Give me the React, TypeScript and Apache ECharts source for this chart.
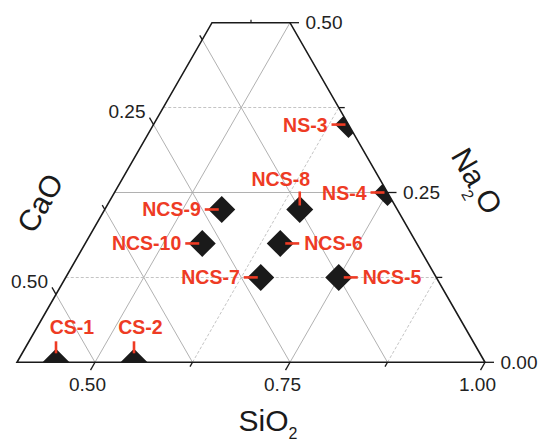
import React, { useEffect, useRef } from "react";
import * as echarts from "echarts";

// ---------------- data (mole fractions) ----------------
const SAMPLES = ["CS-1", "CS-2", "NS-3", "NS-4", "NCS-5", "NCS-6", "NCS-7", "NCS-8", "NCS-9", "NCS-10"];
const SIO2 = [0.45, 0.55, 0.65, 0.75, 0.75, 0.65, 0.65, 0.65, 0.55, 0.55];
const NA2O = [0.0, 0.0, 0.35, 0.25, 0.125, 0.175, 0.125, 0.225, 0.225, 0.175];
const CAO = [0.55, 0.45, 0.0, 0.0, 0.125, 0.175, 0.225, 0.125, 0.225, 0.275];

const SIO2_TICKS = [0.5, 0.625, 0.75, 0.875, 1.0];
const SIO2_TICK_LABELS = ["0.50", "", "0.75", "", "1.00"];
const CAO_TICKS = [0.125, 0.25, 0.375, 0.5];
const CAO_TICK_LABELS = ["", "0.25", "", "0.50"];
const NA2O_TICKS = [0.0, 0.125, 0.25, 0.375, 0.5];
const NA2O_TICK_LABELS = ["0.00", "", "0.25", "", "0.50"];

// visible window of the ternary
const SIO2_MIN = 0.4;
const NA2O_MAX = 0.5;

// label placement (styles, kept apart from the data)
const LABEL_LAYOUT: Record<string, any> = {
  "CS-1": { side: "up", dx: 16, lead: [21, 9], base: 28 },
  "CS-2": { side: "up", dx: 6.5, lead: [21, 9], base: 28 },
  "NS-3": { side: "left" },
  "NS-4": { side: "left" },
  "NCS-5": { side: "right" },
  "NCS-6": { side: "right" },
  "NCS-7": { side: "left" },
  "NCS-8": { side: "up", dx: -19, lead: [18, 4], base: 23.6 },
  "NCS-9": { side: "left" },
  "NCS-10": { side: "left" },
};

const FONT = '"Liberation Sans", Arial, Helvetica, sans-serif';
const RED = "#ee3b24";
const INK = "#1a1a1a";

// ternary (SiO2, Na2O; CaO = 1 - SiO2 - Na2O) -> cartesian
const toXY = (s: number, n: number): [number, number] => [s + n / 2, n];

const BL = toXY(SIO2_MIN, 0);
const BR = toXY(1, 0);
const TR = toXY(1 - NA2O_MAX, NA2O_MAX);
const TL = toXY(SIO2_MIN, NA2O_MAX);

function buildGridLines() {
  const solid: [number, number][][] = [];
  const dashed: [number, number][][] = [];
  NA2O_TICKS.forEach((n, i) => {
    if (n <= 0 || n >= NA2O_MAX) return;
    const seg = [toXY(SIO2_MIN, n), toXY(1 - n, n)];
    (NA2O_TICK_LABELS[i] ? solid : dashed).push(seg);
  });
  SIO2_TICKS.forEach((s, i) => {
    if (s >= 1) return;
    const seg = [toXY(s, 0), toXY(s, Math.min(NA2O_MAX, 1 - s))];
    (SIO2_TICK_LABELS[i] ? solid : dashed).push(seg);
  });
  CAO_TICKS.forEach((c) => {
    const nLeft = 1 - c - SIO2_MIN;
    const end = nLeft <= NA2O_MAX ? toXY(SIO2_MIN, nLeft) : toXY(1 - c - NA2O_MAX, NA2O_MAX);
    solid.push([toXY(1 - c, 0), end]);
  });
  return { solid, dashed };
}

function unit(a: number[], b: number[]) {
  const dx = a[0] - b[0];
  const dy = a[1] - b[1];
  const l = Math.hypot(dx, dy) || 1;
  return [dx / l, dy / l];
}

function tickLabel(text: string, x: number, y: number, align: string) {
  return {
    type: "text",
    x,
    y,
    style: { text, fill: "#222", fontSize: 19, fontFamily: FONT, align, verticalAlign: "middle" },
  };
}

function tickLine(p: number[], d: number[], len: number) {
  return {
    type: "line",
    shape: { x1: p[0], y1: p[1], x2: p[0] + d[0] * len, y2: p[1] + d[1] * len },
    style: { stroke: INK, lineWidth: 1.3 },
  };
}

function measure(text: string, size: number) {
  const ctx = document.createElement("canvas").getContext("2d")!;
  ctx.font = `${size}px ${FONT}`;
  return ctx.measureText(text).width;
}

function subTitle(parts: { t: string; sub?: boolean }[], cx: number, cy: number, rot: number, size: number, subSize: number, subDy: number) {
  const widths = parts.map((p) => measure(p.t, p.sub ? subSize : size));
  const total = widths.reduce((a, b) => a + b, 0);
  let x = -total / 2;
  const children = parts.map((p, i) => {
    const el = {
      type: "text",
      x,
      y: p.sub ? subDy : 0,
      z: 100,
      style: { text: p.t, fontSize: p.sub ? subSize : size, fontFamily: FONT, fill: INK, align: "left", verticalAlign: "middle" },
    };
    x += widths[i];
    return el;
  });
  return { type: "group", x: cx, y: cy, rotation: rot, z: 100, children };
}

function buildOption() {
  const { solid, dashed } = buildGridLines();
  const points = SAMPLES.map((name, i) => ({ name, value: toXY(SIO2[i], NA2O[i]), cao: CAO[i] }));

  return {
    animation: false,
    backgroundColor: "#fff",
    grid: { left: 17, top: 22.7, width: 468, height: 339.6, show: false },
    xAxis: { type: "value", min: SIO2_MIN, max: 1, show: false },
    yAxis: { type: "value", min: 0, max: NA2O_MAX, show: false },
    series: [
      {
        type: "lines",
        coordinateSystem: "cartesian2d",
        z: 1,
        silent: true,
        data: solid.map((c) => ({ coords: c })),
        lineStyle: { color: "#a8a8a8", width: 0.9, opacity: 1, type: "solid" },
      },
      {
        type: "lines",
        coordinateSystem: "cartesian2d",
        z: 1,
        silent: true,
        data: dashed.map((c) => ({ coords: c })),
        lineStyle: { color: "#bdbdbd", width: 0.9, opacity: 1, type: [3, 2] },
      },
      {
        type: "scatter",
        z: 2,
        clip: true,
        symbol: "diamond",
        symbolSize: 27,
        itemStyle: { color: INK, opacity: 1 },
        data: points.map((p) => ({ name: p.name, value: p.value })),
      },
      {
        // white masks: keep markers inside the ternary (SiO2–Na2O side and SiO2 base)
        type: "custom",
        coordinateSystem: "cartesian2d",
        z: 3,
        silent: true,
        data: [[BR[0], BR[1]]],
        renderItem: (_p: any, api: any) => {
          const a = api.coord(TR);
          const b = api.coord(BR);
          const l = api.coord(BL);
          return {
            type: "group",
            children: [
              {
                type: "polygon",
                shape: { points: [a, b, [b[0] + 3, b[1]], [b[0] + 3, a[1] - 3], [a[0], a[1] - 3]] },
                style: { fill: "#fff" },
              },
              {
                type: "rect",
                shape: { x: l[0] - 2, y: l[1], width: b[0] - l[0] + 5, height: 16 },
                style: { fill: "#fff" },
              },
            ],
          };
        },
      },
      {
        // frame
        type: "custom",
        coordinateSystem: "cartesian2d",
        z: 4,
        silent: true,
        data: [[BL[0], BL[1]]],
        renderItem: (_p: any, api: any) => {
          const pts = [BL, BR, TR, TL].map((q) => api.coord(q));
          const tl = pts[3];
          const tr = pts[2];
          const mx = (tl[0] + tr[0]) / 2;
          return {
            type: "group",
            children: [
              {
                type: "polygon",
                shape: { points: pts },
                style: { fill: "none", stroke: INK, lineWidth: 1.6, lineJoin: "miter" },
              },
              { type: "line", shape: { x1: mx, y1: tl[1], x2: mx, y2: tl[1] - 3 }, style: { stroke: INK, lineWidth: 1.2 } },
            ],
          };
        },
      },
      {
        // SiO2 ticks (bottom)
        type: "custom",
        coordinateSystem: "cartesian2d",
        z: 5,
        silent: true,
        data: SIO2_TICKS.map((s) => toXY(s, 0)),
        renderItem: (params: any, api: any) => {
          const i = params.dataIndex;
          const s = SIO2_TICKS[i];
          const p0 = api.coord(toXY(s, 0));
          const p1 = api.coord(toXY(s, 0.1));
          const d = unit(p0, p1);
          const lab = SIO2_TICK_LABELS[i];
          const children: any[] = [tickLine(p0, d, lab ? 9 : 5)];
          if (lab) children.push(tickLabel(lab, p0[0] - 7.5, p0[1] + 22.5, "center"));
          return { type: "group", children };
        },
      },
      {
        // CaO ticks (left)
        type: "custom",
        coordinateSystem: "cartesian2d",
        z: 5,
        silent: true,
        data: CAO_TICKS.map((c) => toXY(SIO2_MIN, 1 - c - SIO2_MIN)),
        renderItem: (params: any, api: any) => {
          const i = params.dataIndex;
          const c = CAO_TICKS[i];
          const p0 = api.coord(toXY(SIO2_MIN, 1 - c - SIO2_MIN));
          const p1 = api.coord(toXY(1 - c, 0));
          const d = unit(p0, p1);
          const lab = CAO_TICK_LABELS[i];
          const children: any[] = [tickLine(p0, d, lab ? 8 : 5)];
          if (lab) children.push(tickLabel(lab, p0[0] - 8, p0[1] - 13, "right"));
          return { type: "group", children };
        },
      },
      {
        // Na2O ticks (right)
        type: "custom",
        coordinateSystem: "cartesian2d",
        z: 5,
        silent: true,
        data: NA2O_TICKS.map((n) => toXY(1 - n, n)),
        renderItem: (params: any, api: any) => {
          const i = params.dataIndex;
          const n = NA2O_TICKS[i];
          const p0 = api.coord(toXY(1 - n, n));
          const lab = NA2O_TICK_LABELS[i];
          const children: any[] = [tickLine(p0, [1, 0], lab ? 9 : 6)];
          if (lab) children.push(tickLabel(lab, p0[0] + 15.5, p0[1], "left"));
          return { type: "group", children };
        },
      },
      {
        // sample labels with leader lines
        type: "custom",
        coordinateSystem: "cartesian2d",
        z: 6,
        silent: true,
        data: points.map((p) => p.value),
        renderItem: (params: any, api: any) => {
          const name = SAMPLES[params.dataIndex];
          const p = api.coord([api.value(0), api.value(1)]);
          const L = LABEL_LAYOUT[name];
          const ts = (align: string) => ({
            text: name,
            fill: RED,
            fontSize: 19.5,
            fontWeight: "bold",
            fontFamily: FONT,
            align,
            verticalAlign: "middle",
          });
          let shape: any;
          let text: any;
          if (L.side === "left") {
            shape = { x1: p[0] - 17, y1: p[1], x2: p[0] - 3, y2: p[1] };
            text = { type: "text", x: p[0] - 21, y: p[1], style: ts("right") };
          } else if (L.side === "right") {
            shape = { x1: p[0] + 5, y1: p[1], x2: p[0] + 19, y2: p[1] };
            text = { type: "text", x: p[0] + 24, y: p[1], style: ts("left") };
          } else {
            shape = { x1: p[0], y1: p[1] - L.lead[0], x2: p[0], y2: p[1] - L.lead[1] };
            text = { type: "text", x: p[0] + L.dx, y: p[1] - L.base - 7, style: ts("center") };
          }
          return {
            type: "group",
            children: [{ type: "line", shape, style: { stroke: RED, lineWidth: 2.6 } }, text],
          };
        },
      },
    ],
    graphic: [
      subTitle([{ t: "CaO" }], 40, 203, Math.PI / 3, 30, 16, 0),
      subTitle([{ t: "Na" }, { t: "2", sub: true }, { t: "O" }], 477, 181, -Math.PI / 3, 30, 16, 15),
      subTitle([{ t: "SiO" }, { t: "2", sub: true }], 268, 420, 0, 30, 16, 13),
    ],
  };
}

export default function App() {
  const ref = useRef<HTMLDivElement>(null);
  useEffect(() => {
    if (!ref.current) return;
    const chart = echarts.init(ref.current, undefined, { renderer: "svg" });
    chart.setOption(buildOption() as any);
    return () => chart.dispose();
  }, []);
  return (
    <div
      ref={ref}
      style={{ position: "absolute", left: 0, top: 0, width: 539, height: 445, background: "#fff" }}
    />
  );
}
